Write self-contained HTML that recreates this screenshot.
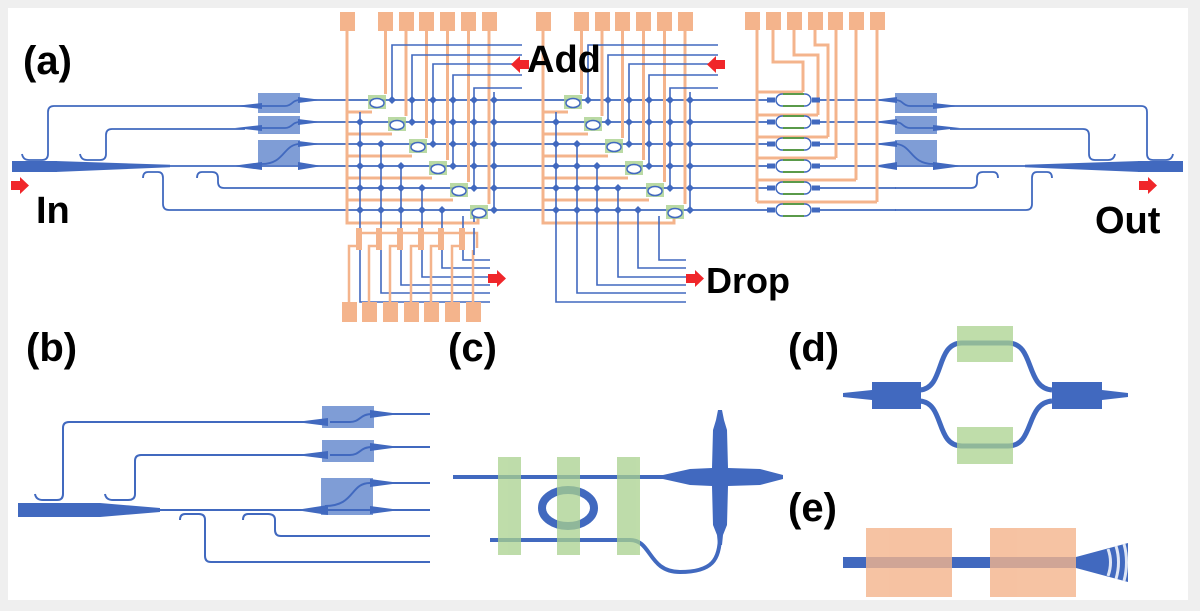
<!DOCTYPE html>
<html><head><meta charset="utf-8"><style>
html,body{margin:0;padding:0;background:#efefef}
svg{display:block}
text{font-family:"Liberation Sans",Arial,sans-serif;font-weight:bold;fill:#000}
</style></head><body>
<svg width="1200" height="611" viewBox="0 0 1200 611" xmlns="http://www.w3.org/2000/svg">
<defs>
<polygon id="ar" points="0,4 9,4 9,0 18,8.5 9,17 9,13 0,13" fill="#f0262a"/>
<g id="side">
 <rect x="258" y="93" width="42" height="20" fill="#7f9dd6"/>
 <rect x="258" y="116" width="42" height="18" fill="#7f9dd6"/>
 <rect x="258" y="140" width="42" height="25" fill="#7f9dd6"/>
 <g fill="none" stroke="#4169bf" stroke-width="1.8">
  <path d="M22 154 q1 6 7 6 h13 q6 0 6-6 V112 q0-6 6-6 H245"/>
  <path d="M80 154 q1 6 7 6 h13 q6 0 6-6 V135 q0-6 6-6 H245"/>
  <path d="M258 106 H285 C292 106 292 100 300 100"/>
  <path d="M258 128 H285 C292 128 292 122 300 122"/>
  <path d="M262 164 C285 164 283 144 300 144"/>
  <path d="M170 166 H300"/>
  <path d="M197 178 q0-6 5-6 h10 q6 0 6 6 V182 q0 6 6 6 H300"/>
  <path d="M143 178 q0-6 5-6 h10 q5 0 5 6 V204 q0 6 6 6 H300"/>
 </g>
 <g fill="#4169bf">
  <polygon points="235,106 262,103 262,109"/>
  <polygon points="235,128 262,125 262,131"/>
  <polygon points="298,97 322,100 298,103"/>
  <polygon points="298,119 322,122 298,125"/>
  <polygon points="298,141 322,144 298,147"/>
  <rect x="12" y="161" width="45" height="11"/>
  <polygon points="55,161 170,164.8 170,167.2 55,172"/>
  <polygon points="232,166 262,162 262,170"/>
  <polygon points="298,162 322,166 298,170"/>
 </g>
</g>
<g id="xb">
 <g fill="#f4b48c">
  <rect x="340" y="12" width="15" height="19"/><rect x="378" y="12" width="15" height="19"/><rect x="399" y="12" width="15" height="19"/><rect x="419" y="12" width="15" height="19"/><rect x="440" y="12" width="15" height="19"/><rect x="461" y="12" width="15" height="19"/><rect x="482" y="12" width="15" height="19"/>
 </g>
 <g fill="none" stroke="#f4b48c" stroke-width="3">
  <path d="M347 30 V223 H478 V212"/>
  <path d="M347 112 H372 M347 134 H392 M347 156 H412 M347 178 H432 M347 200 H453"/>
  <path d="M385.5 30 V94 M406 30 V116 M426.5 30 V138 M447.5 30 V160 M468.5 30 V182 M489 30 V204"/>
 </g>
 <g fill="none" stroke="#4169bf" stroke-width="1.6">
  <path d="M522 45 H392 V100 M522 55 H412 V122 M522 64 H433 V144 M522 75 H453 V166 M522 88 H474 V188 M494 92 V210"/>
  <path d="M360 112 V302 H490 M381 144 V293 H490 M401 166 V285 H490 M422 188 V277 H490 M442 210 V268 H490 M463 216 V260 H490"/>
 </g>
 <path fill="#4169bf" d="M392 96l4 4-4 4-4-4zM412 96l4 4-4 4-4-4zM433 96l4 4-4 4-4-4zM453 96l4 4-4 4-4-4zM474 96l4 4-4 4-4-4zM494 96l4 4-4 4-4-4z
 M360 118l4 4-4 4-4-4zM412 118l4 4-4 4-4-4zM433 118l4 4-4 4-4-4zM453 118l4 4-4 4-4-4zM474 118l4 4-4 4-4-4zM494 118l4 4-4 4-4-4z
 M360 140l4 4-4 4-4-4zM381 140l4 4-4 4-4-4zM433 140l4 4-4 4-4-4zM453 140l4 4-4 4-4-4zM474 140l4 4-4 4-4-4zM494 140l4 4-4 4-4-4z
 M360 162l4 4-4 4-4-4zM381 162l4 4-4 4-4-4zM401 162l4 4-4 4-4-4zM453 162l4 4-4 4-4-4zM474 162l4 4-4 4-4-4zM494 162l4 4-4 4-4-4z
 M360 184l4 4-4 4-4-4zM381 184l4 4-4 4-4-4zM401 184l4 4-4 4-4-4zM422 184l4 4-4 4-4-4zM474 184l4 4-4 4-4-4zM494 184l4 4-4 4-4-4z
 M360 206l4 4-4 4-4-4zM381 206l4 4-4 4-4-4zM401 206l4 4-4 4-4-4zM422 206l4 4-4 4-4-4zM442 206l4 4-4 4-4-4zM494 206l4 4-4 4-4-4z"/>
 <g fill="#a9d18e" opacity="0.8">
  <rect x="368" y="95" width="18" height="14"/><rect x="388" y="117" width="18" height="14"/><rect x="409" y="139" width="18" height="14"/><rect x="429" y="161" width="18" height="14"/><rect x="450" y="183" width="18" height="14"/><rect x="470" y="205" width="18" height="14"/>
 </g>
 <g fill="#fff" stroke="#4169bf" stroke-width="1.5">
  <ellipse cx="377" cy="103" rx="7" ry="4.5"/><ellipse cx="397" cy="125" rx="7" ry="4.5"/><ellipse cx="418" cy="147" rx="7" ry="4.5"/><ellipse cx="438" cy="169" rx="7" ry="4.5"/><ellipse cx="459" cy="191" rx="7" ry="4.5"/><ellipse cx="479" cy="213" rx="7" ry="4.5"/>
 </g>
</g>
<g id="mzi">
 <rect x="767" y="-2.5" width="8" height="5" fill="#4169bf"/>
 <rect x="812" y="-2.5" width="8" height="5" fill="#4169bf"/>
 <rect x="776" y="-6" width="35" height="12" rx="6" fill="none" stroke="#4169bf" stroke-width="1.5"/>
 <path d="M783 -6 H804 M783 6 H804" stroke="#5a9a4a" stroke-width="2"/>
</g>
</defs>
<rect x="8" y="8" width="1180" height="592" fill="#fff"/>

<g stroke="#4169bf" stroke-width="1.8" fill="none">
 <path d="M300 100 H768 M300 122 H768 M300 144 H768 M300 166 H768 M300 188 H768 M300 210 H768"/>
 <path d="M819 100 H896 M819 122 H896 M819 144 H896 M819 166 H896 M819 188 H896 M819 210 H896"/>
</g>
<use href="#side"/>
<use href="#side" transform="translate(1195,0) scale(-1,1)"/>
<use href="#xb"/>
<use href="#xb" transform="translate(196,0)"/>

<g fill="#f4b48c">
 <rect x="342" y="302" width="15" height="20"/><rect x="362" y="302" width="15" height="20"/><rect x="383" y="302" width="15" height="20"/><rect x="404" y="302" width="15" height="20"/><rect x="424" y="302" width="15" height="20"/><rect x="445" y="302" width="15" height="20"/><rect x="466" y="302" width="15" height="20"/>
 <rect x="356" y="228" width="6" height="22"/><rect x="376" y="228" width="6" height="22"/><rect x="397" y="228" width="6" height="22"/><rect x="418" y="228" width="6" height="22"/><rect x="438" y="228" width="6" height="22"/><rect x="459" y="228" width="6" height="22"/>
</g>
<g fill="none" stroke="#f4b48c" stroke-width="2.5">
 <path d="M357 233 H477 V248"/>
 <path d="M349 302 V246 H357 M369 302 V246 H377 M390 302 V246 H398 M411 302 V246 H419 M431 302 V246 H439 M452 302 V246 H460 M473 302 V250"/>
</g>
<path d="M474 255 V228 M474 222 V216" stroke="#4169bf" stroke-width="1.6" fill="none"/>

<g fill="#f4b48c">
 <rect x="745" y="12" width="15" height="18"/><rect x="766" y="12" width="15" height="18"/><rect x="787" y="12" width="15" height="18"/><rect x="808" y="12" width="15" height="18"/><rect x="828" y="12" width="15" height="18"/><rect x="849" y="12" width="15" height="18"/><rect x="870" y="12" width="15" height="18"/>
</g>
<g fill="none" stroke="#f4b48c" stroke-width="3">
 <path d="M757 30 V202"/>
 <path d="M773 30 V62 H803 V92 M794 30 V55 H818 V115 M815 30 V45 H828 V137 M836 30 V158 M856 30 V180 M877 30 V202"/>
 <path d="M757 92 H803 M757 115 H818 M757 137 H828 M757 158 H836 M757 180 H856 M757 202 H877"/>
</g>
<use href="#mzi" transform="translate(0,100)"/><use href="#mzi" transform="translate(0,122)"/><use href="#mzi" transform="translate(0,144)"/><use href="#mzi" transform="translate(0,166)"/><use href="#mzi" transform="translate(0,188)"/><use href="#mzi" transform="translate(0,210)"/>

<use href="#ar" x="11" y="177"/>
<use href="#ar" x="1139" y="177"/>
<use href="#ar" transform="translate(529,56) scale(-1,1)"/>
<use href="#ar" transform="translate(725,56) scale(-1,1)"/>
<use href="#ar" x="488" y="270"/>
<use href="#ar" x="686" y="270"/>

<text x="23" y="74" font-size="40">(a)</text>
<text x="36" y="223" font-size="38">In</text>
<text x="1095" y="233" font-size="38">Out</text>
<text x="527" y="72" font-size="38">Add</text>
<text x="706" y="293" font-size="36">Drop</text>
<text x="26" y="361" font-size="40">(b)</text>
<text x="448" y="361" font-size="40">(c)</text>
<text x="788" y="361" font-size="40">(d)</text>
<text x="788" y="521" font-size="40">(e)</text>

<g fill="#7f9dd6">
 <rect x="322" y="406" width="52" height="22"/><rect x="322" y="440" width="52" height="22"/><rect x="321" y="478" width="52" height="37"/>
</g>
<g fill="none" stroke="#4169bf" stroke-width="2">
 <path d="M35 494 q1 6 8 6 h14 q6 0 6-6 V428 q0-6 6-6 H310"/>
 <path d="M105 494 q1 6 8 6 h15 q7 0 7-6 V461 q0-6 6-6 H310"/>
 <path d="M330 422 H350 C360 422 360 414 372 414 H430"/>
 <path d="M330 455 H350 C360 455 360 447 372 447 H430"/>
 <path d="M325 506 C355 506 350 483 370 483 H430"/>
 <path d="M150 510 H430"/>
 <path d="M180 520 q0-6 5-6 h14 q6 0 6 6 V556 q0 6 6 6 H430"/>
 <path d="M243 520 q0-6 5-6 h20 q7 0 7 6 V530 q0 6 6 6 H430"/>
</g>
<g fill="#4169bf">
 <rect x="18" y="503" width="82" height="14"/>
 <polygon points="100,503 160,508 160,512 100,517"/>
 <polygon points="296,422 328,418 328,426"/>
 <polygon points="296,455 328,451 328,459"/>
 <polygon points="296,510 328,505 328,515"/>
 <polygon points="370,410 400,414 370,418"/>
 <polygon points="370,443 400,447 370,451"/>
 <polygon points="370,479 400,483 370,487"/>
 <polygon points="370,506 400,510 370,514"/>
</g>

<g fill="none" stroke="#4169bf">
 <path d="M453 477 H680" stroke-width="4"/>
 <path d="M490 540 H630 C652 540 648 572 680 572 C712 572 720 560 720 535" stroke-width="4"/>
 <ellipse cx="568" cy="508" rx="26" ry="18" stroke-width="8"/>
</g>
<polygon fill="#4169bf" points="663,475 690,469 712,468 713,430 716,420 718,410 722,410 724,420 727,430 728,468 760,469 783,475 783,479 760,485 728,486 727,525 723,535 722,545 718,545 717,535 713,525 712,486 690,485 663,479"/>
<g fill="#a9d18e" opacity="0.75">
 <rect x="498" y="457" width="23" height="98"/><rect x="557" y="457" width="23" height="98"/><rect x="617" y="457" width="23" height="98"/>
</g>

<g fill="#4169bf">
 <polygon points="843,393 872,390 872,400 843,397"/>
 <rect x="872" y="382" width="49" height="27"/>
 <rect x="1052" y="382" width="50" height="27"/>
 <polygon points="1102,390 1128,393 1128,397 1102,400"/>
</g>
<g fill="none" stroke="#4169bf" stroke-width="5">
 <path d="M920 390 C945 388 935 343 962 343 H1008 C1035 343 1025 388 1052 390"/>
 <path d="M920 401 C945 403 935 446 962 446 H1008 C1035 446 1025 403 1052 401"/>
</g>
<g fill="#a9d18e" opacity="0.75">
 <rect x="957" y="326" width="56" height="36"/><rect x="957" y="427" width="56" height="37"/>
</g>

<rect x="843" y="557" width="235" height="11" fill="#4169bf"/>
<polygon points="1076,557 1128,543 1128,582 1076,568" fill="#4169bf"/>
<g fill="none" stroke="#dfe6f5" stroke-width="3">
 <path d="M1108 549 Q1113 562 1108 576"/>
 <path d="M1116 546 Q1121 562 1116 579"/>
 <path d="M1124 544 Q1129 562 1124 581"/>
</g>
<g fill="#f4b48c" opacity="0.8">
 <rect x="866" y="528" width="86" height="69"/><rect x="990" y="528" width="86" height="69"/>
</g>
</svg>
</body></html>
